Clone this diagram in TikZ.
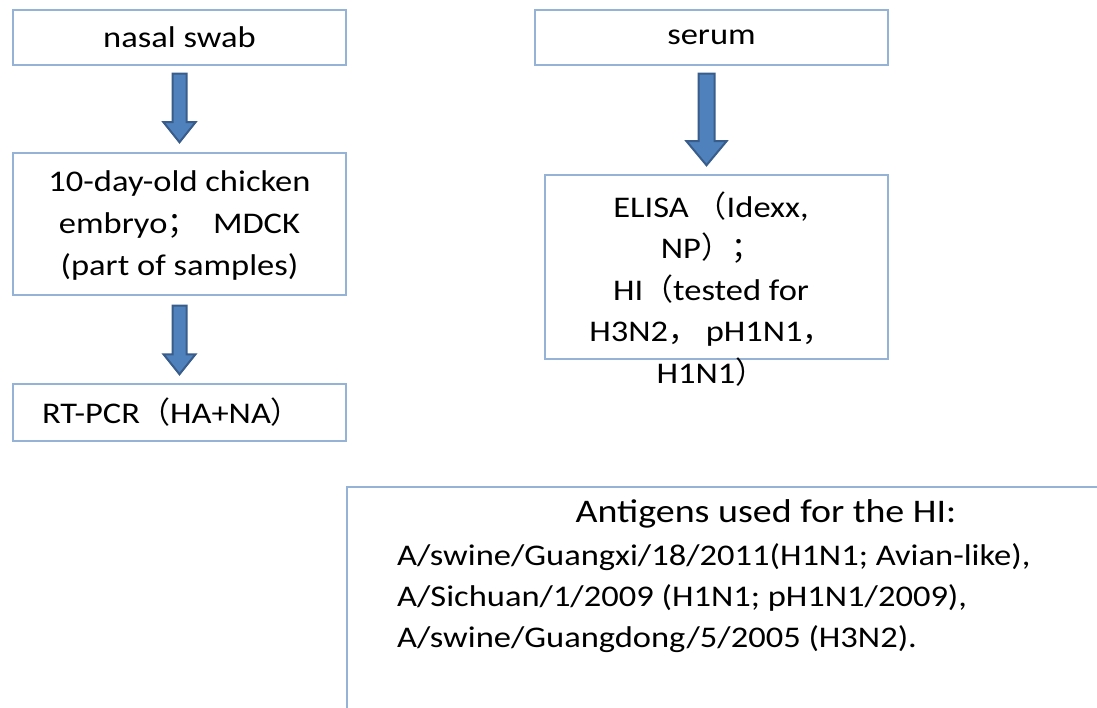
\documentclass[tikz,border=0pt]{standalone}
\usepackage{fontspec}
\setmainfont{Carlito}
\newfontfamily\cjk{Noto Sans CJK SC}
\newfontfamily\wide[FakeStretch=1.15]{Carlito}
\usetikzlibrary{calc}
\definecolor{boxline}{HTML}{95B3D7}
\definecolor{arrowfill}{HTML}{4F81BD}
\definecolor{arrowline}{HTML}{385D8A}
\newcommand{\fw}[1]{{\cjk #1}}
\newcommand{\blockarr}[5]{% top, tip, shaft half, head half, head length
  \fill[arrowfill,draw=arrowline,line width=2pt,line join=miter]
    ($(#1)+(-#3,0)$) -- ($(#1)+(#3,0)$) -- ($(#2)+(#3,-#5)$) -- ($(#2)+(#4,-#5)$) --
    (#2) -- ($(#2)+(-#4,-#5)$) -- ($(#2)+(-#3,-#5)$) -- cycle;}
\begin{document}
\begin{tikzpicture}[x=1pt,y=-1pt,
  box/.style={draw=boxline,line width=1.5pt,fill=white,inner sep=0pt},
  txt/.style={text=black,inner sep=0pt,align=center,font=\wide\fontsize{30}{42}\selectfont}]
\useasboundingbox[fill=white] (0,0) rectangle (1097,708);
% left column
\node[box,minimum width=333pt,minimum height=55pt] (ns) at (179.5,37.5) {};
\node[txt] (nst) at (179.5,37) {nasal swab};
\node[box,minimum width=333pt,minimum height=142pt] (emb) at (179.5,224) {};
\node[txt] (embt) at (179.5,226) {10-day-old chicken\\embryo\fw{；}\ \ MDCK\\(part of samples)};
\node[box,minimum width=333pt,minimum height=57pt] (rt) at (179.5,412.5) {};
\node[txt] (rtt) at (171.5,412) {RT-PCR\fw{（}HA+NA\fw{）}};
% right column
\node[box,minimum width=353pt,minimum height=55pt] (se) at (711.5,37.5) {};
\node[txt] (set) at (711.5,37) {serum};
\node[box,minimum width=343pt,minimum height=184pt] (el) at (716.5,267) {};
\node[txt,font=\wide\fontsize{30}{41.5}\selectfont] (elt) at (711,289) {ELISA \fw{（}Idexx,\\NP\fw{）；}\\HI\fw{（}tested for\\H3N2\fw{，} pH1N1\fw{，}\\H1N1\fw{）}};
% antigens box (cut off by the frame)
\begin{scope}
\clip (0,0) rectangle (1097,708);
\node[box,anchor=north west,minimum width=800pt,minimum height=300pt] (ag) at (346,486) {};
\end{scope}
\node[txt,font=\wide\fontsize{33}{41}\selectfont] (agh) at (766,514) {Antigens used for the HI:};
\node[txt,align=left,anchor=west,font=\wide\fontsize{30}{41}\selectfont] (agt) at (397,598) {A/swine/Guangxi/18/2011(H1N1; Avian-like),\\A/Sichuan/1/2009 (H1N1; pH1N1/2009),\\A/swine/Guangdong/5/2005 (H3N2).};
% arrows
\coordinate (a1s) at ($(ns.south)+(0,8)$);
\coordinate (a1e) at ($(emb.north)+(0,-10)$);
\blockarr{a1s}{a1e}{7}{16}{20}
\coordinate (a2s) at ($(emb.south)+(0,10)$);
\coordinate (a2e) at ($(rt.north)+(0,-9)$);
\blockarr{a2s}{a2e}{7}{16}{20}
\coordinate (a3s) at ($(se.south)+(-5,8)$);
\coordinate (a3e) at ($(el.north)+(-10,-9)$);
\blockarr{a3s}{a3e}{8}{20}{24}
\end{tikzpicture}
\end{document}
